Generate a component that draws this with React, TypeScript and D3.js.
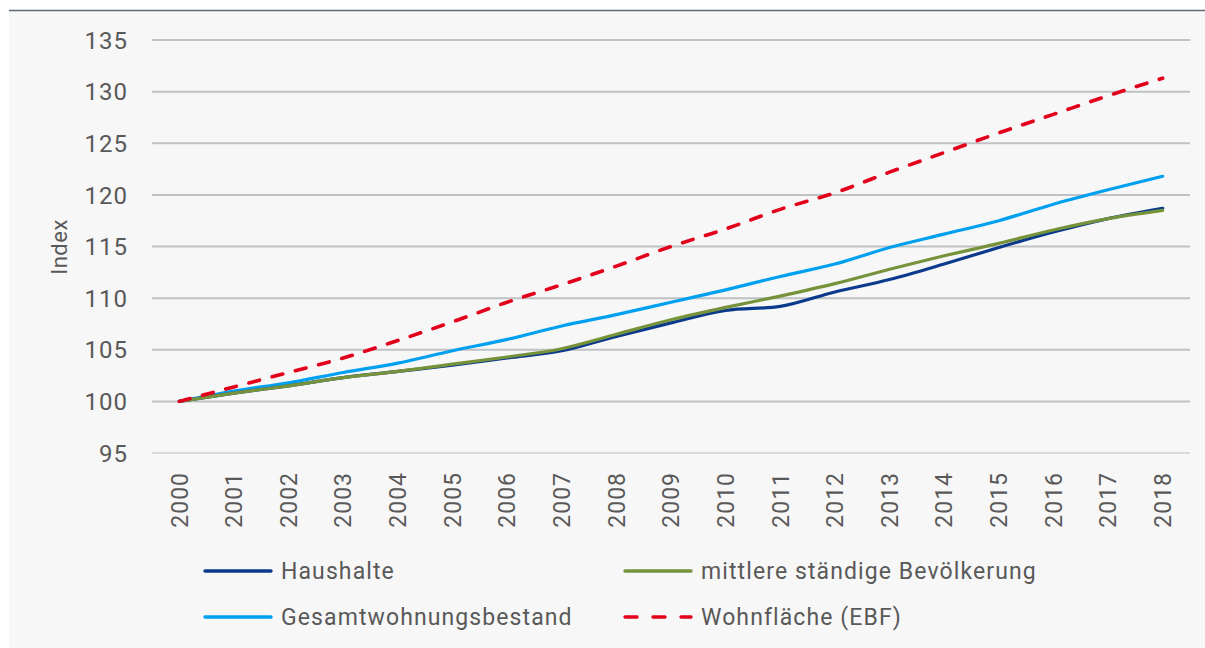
import * as d3 from "d3";
import React from "react";

const years = ["2000", "2001", "2002", "2003", "2004", "2005", "2006", "2007", "2008", "2009",
  "2010", "2011", "2012", "2013", "2014", "2015", "2016", "2017", "2018"];

const haushalte = [100, 100.8, 101.5, 102.3, 102.9, 103.5, 104.2, 104.9, 106.3, 107.6,
  108.8, 109.2, 110.6, 111.8, 113.3, 114.9, 116.4, 117.7, 118.7];
const bevoelkerung = [100, 100.8, 101.5, 102.3, 102.9, 103.6, 104.3, 105.1, 106.5, 107.9,
  109.1, 110.2, 111.4, 112.8, 114.1, 115.3, 116.6, 117.7, 118.5];
const wohnungsbestand = [100, 101.0, 101.8, 102.8, 103.7, 104.9, 106.0, 107.3, 108.4, 109.6,
  110.8, 112.1, 113.3, 114.9, 116.2, 117.5, 119.1, 120.5, 121.8];
const wohnflaeche = [100, 101.4, 102.8, 104.2, 105.9, 107.7, 109.6, 111.3, 113.1, 115.0,
  116.7, 118.6, 120.2, 122.2, 124.1, 126.0, 127.8, 129.6, 131.3];

const yTicks = [95, 100, 105, 110, 115, 120, 125, 130, 135];

const series = [
  { name: "Haushalte", values: haushalte, color: "#0b3a8d", dash: "" },
  { name: "mittlere ständige Bevölkerung", values: bevoelkerung, color: "#76933c", dash: "" },
  { name: "Gesamtwohnungsbestand", values: wohnungsbestand, color: "#00a0f0", dash: "" },
  { name: "Wohnfläche (EBF)", values: wohnflaeche, color: "#e3001b", dash: "11 13" },
];

// light blue first, then navy, green and the dashed red on top
const drawOrder = [2, 0, 1, 3];

const font = "Roboto, 'Liberation Sans', sans-serif";
const textColor = "#595959";

export default function App() {
  const svgWidth = 1205;
  const svgHeight = 648;
  const left = 152, right = 1190, top = 40, bottom = 453;

  const x = d3.scalePoint<string>()
    .domain(years)
    .range([left, right])
    .padding(0.5);

  const y = d3.scaleLinear()
    .domain([95, 135])
    .range([bottom, top]);

  const line = d3.line<number>()
    .x((d, i) => x(years[i]) as number)
    .y((d) => y(d))
    .curve(d3.curveMonotoneX);

  const legend = [
    { s: series[0], lx: 203, ly: 571 },
    { s: series[1], lx: 623, ly: 571 },
    { s: series[2], lx: 203, ly: 617 },
    { s: series[3], lx: 623, ly: 617 },
  ];

  return (
    <svg width={svgWidth} height={svgHeight} style={{ position: "absolute", left: 0, top: 0 }}
      fontFamily={font}>
      <rect x={0} y={0} width={svgWidth} height={svgHeight} fill="#ffffff" />
      <rect x={9} y={10} width={svgWidth - 9} height={svgHeight - 10} fill="#f7f7f7" />
      <line x1={9} x2={svgWidth} y1={10.5} y2={10.5} stroke="#5f6b79" strokeWidth={1.5} />

      {yTicks.map((t) => (
        <g key={t}>
          <line x1={left} x2={right} y1={y(t)} y2={y(t)}
            stroke={t === 95 ? "#d9d9d9" : "#bfc1c4"} strokeWidth={2} />
          <text x={128} y={y(t)} dy="0.36em" textAnchor="end" fontSize={24} letterSpacing={1}
            fill={textColor}>{t}</text>
        </g>
      ))}

      <text transform={`translate(67,247) rotate(-90)`} textAnchor="middle" fontSize={22}
        letterSpacing={0.5} fill={textColor}>Index</text>

      {years.map((yr) => (
        <text key={yr} transform={`translate(${x(yr)},472) rotate(-90)`} textAnchor="end" dy="0.36em"
          fontSize={23} letterSpacing={1} fill={textColor}>{yr}</text>
      ))}

      {drawOrder.map((i) => {
        const s = series[i];
        return (
          <path key={s.name} d={line(s.values) || ""} fill="none" stroke={s.color}
            strokeWidth={s.dash ? 3.6 : 3.2}
            strokeDasharray={s.dash || undefined} strokeLinecap="round"
            strokeLinejoin="round" />
        );
      })}

      {legend.map(({ s, lx, ly }) => (
        <g key={s.name}>
          <line x1={lx + 2} x2={lx + 68} y1={ly} y2={ly} stroke={s.color} strokeWidth={3.4}
            strokeLinecap="round" strokeDasharray={s.dash ? "12 16" : undefined} />
          <text x={lx + 78} y={ly} dy="0.36em" fontSize={23} letterSpacing={1.1}
            fill={textColor}>{s.name}</text>
        </g>
      ))}
    </svg>
  );
}
